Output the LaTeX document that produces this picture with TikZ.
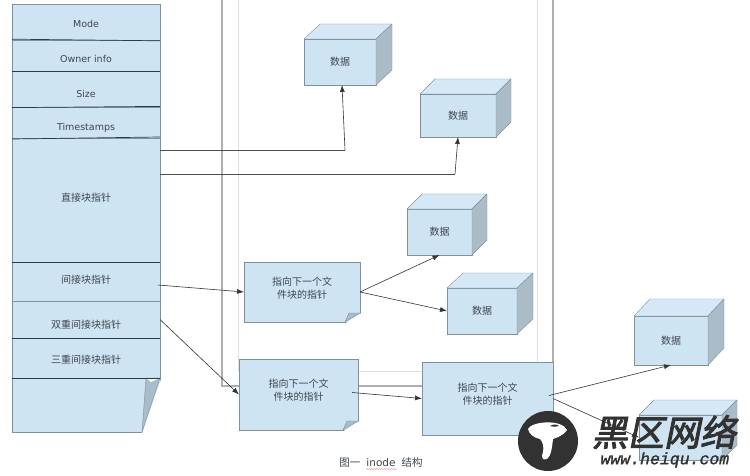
\documentclass[tikz,border=0pt]{standalone}
\usepackage{fontspec}
\setmainfont{DejaVu Sans}
\newfontfamily\cjk{Noto Sans CJK SC}
\newfontfamily\cjkmark[FakeSlant=0.2,FakeBold=2.5]{Noto Sans CJK SC}
\newfontfamily\urlmark[FakeSlant=0.2,FakeBold=1.5]{Liberation Mono}
\usetikzlibrary{arrows.meta,positioning,calc,decorations.pathmorphing}
\definecolor{cBox}{RGB}{207,228,243}
\definecolor{cTop}{RGB}{214,232,245}
\definecolor{cSide}{RGB}{170,188,200}
\definecolor{cLine}{RGB}{125,145,158}
\definecolor{cDiv}{RGB}{35,60,80}
\definecolor{cText}{RGB}{60,70,78}
\definecolor{cMark}{RGB}{50,50,50}
\definecolor{cPage}{RGB}{175,175,175}
\definecolor{cPageIn}{RGB}{222,222,222}
\tikzset{
  basebox/.style={rectangle,draw=cLine,fill=cBox,outer sep=0pt,inner sep=0pt,
                  align=center,text=cText,font=\cjk\fontsize{10}{13}\selectfont},
  cellbox/.style={basebox,minimum width=148pt},
  txt/.style={text=cText,align=center,font=\cjk\fontsize{10}{13}\selectfont},
  entxt/.style={text=cText,font=\fontsize{9.5}{11}\selectfont},
  divline/.style={draw=cDiv,line width=0.7pt},
  arr/.style={-{Latex[length=7pt,width=5pt]},line width=0.6pt,color=black!80},
  planearr/.style={line width=0.6pt,color=black!70},
  pageouter/.style={draw=cPage,line width=1.8pt},
  pageinner/.style={draw=cPageIn,line width=1pt}
}
\newcommand{\cubeside}[3]{%
  \draw[cLine,fill=cTop,line join=round] (#1.north west) -- ++(#2,-#3) -- ($(#1.north east)+(#2,-#3)$) -- (#1.north east) -- cycle;
  \draw[cLine,fill=cSide,line join=round] (#1.north east) -- ++(#2,-#3) -- ($(#1.south east)+(#2,-#3)$) -- (#1.south east) -- cycle;}
\newcommand{\notefold}[3]{%
  \fill[white] ($(#1.south east)+(-#2,1.5)$) -- ($(#1.south east)+(1.5,-#3)$) -- ($(#1.south east)+(1.5,1.5)$) -- cycle;
  \draw[cLine,fill=cSide,line join=round] ($(#1.south east)+(-#2,0)$) -- ($(#1.south east)+(-#2+4,-#3)$) -- ($(#1.south east)+(0,-#3)$) -- cycle;}
\begin{document}
\begin{tikzpicture}[x=1pt,y=-1pt]
  \useasboundingbox (0,0) rectangle (750,476);

  % Page behind
  \draw[pageouter] (222,0) -- (222,386) -- (553,386) -- (553,0);
  \draw[pageinner] (238.5,0) -- (238.5,371) -- (537,371) -- (537,0);

  % inode column
  \node[cellbox,minimum height=36pt,label={[entxt,yshift=-2pt]center:Mode}] (mode) at (86,22) {};
  \node[cellbox,minimum height=31pt,below=0pt of mode,label={[entxt,yshift=-3.5pt]center:Owner info}] (owner) {};
  \node[cellbox,minimum height=36pt,below=0pt of owner,label={[entxt,yshift=-5pt]center:Size}] (size) {};
  \node[cellbox,minimum height=31pt,below=0pt of size,label={[entxt,yshift=-5.5pt]center:Timestamps}] (times) {};
  \node[cellbox,minimum height=124pt,below=0pt of times,label={[txt,yshift=2pt]center:直接块指针}] (direct) {};
  \node[cellbox,minimum height=39pt,below=0pt of direct,label={[txt,yshift=1.5pt]center:间接块指针}] (indirect) {};
  \node[cellbox,minimum height=37pt,below=0pt of indirect,label={[txt,yshift=-5.5pt]center:双重间接块指针}] (double) {};
  \node[cellbox,minimum height=40pt,below=0pt of double,label={[txt,yshift=-2pt]center:三重间接块指针}] (triple) {};
  \node[cellbox,minimum height=54pt,below=0pt of triple] (rest) {};

  % Big fold
  \fill[white] ($(rest.south east)+(-18,1.5)$) -- ($(rest.north east)+(1.5,0)$) -- ($(rest.south east)+(1.5,1.5)$) -- cycle;
  \draw[cLine,fill=cSide,line join=round] ($(rest.south east)+(-18,0)$) -- ($(rest.north east)+(-14,0)$) -- (rest.north east) -- cycle;
  \fill[white] ($(rest.north east)+(-13,0.8)$) -- ($(rest.north east)+(-2,0.8)$) -- ($(rest.north east)+(-9,4)$) -- cycle;

  \draw[divline] ([yshift=0.8pt]mode.south west) -- ([yshift=-0.8pt]mode.south east);
  \draw[divline] (owner.south west) -- (owner.south east);
  \draw[divline] ([yshift=-0.6pt]size.south west) -- ([yshift=0.6pt]size.south east);
  \draw[divline] ([yshift=-1pt]times.south west) -- ([yshift=1pt]times.south east);
  \draw[divline] (direct.south west) -- (direct.south east);
  \draw[divline,draw=cLine] (indirect.south west) -- (indirect.south east);
  \draw[divline] (double.south west) -- (double.south east);
  \draw[divline] (triple.south west) -- (triple.south east);

  % Data blocks
  \node[basebox,minimum width=72pt,minimum height=46pt] (data1) at (340,62) {数据};
  \cubeside{data1}{16}{15}
  \node[basebox,minimum width=76pt,minimum height=43pt] (data2) at (458,115.5) {数据};
  \cubeside{data2}{15}{15}
  \node[basebox,minimum width=65pt,minimum height=46pt] (data3) at (439.5,232) {数据};
  \cubeside{data3}{15}{15}
  \node[basebox,minimum width=70pt,minimum height=46pt] (data4) at (482,311) {数据};
  \cubeside{data4}{16}{15}
  \node[basebox,minimum width=74pt,minimum height=49pt] (data5) at (671,340.5) {数据};
  \cubeside{data5}{16}{17}
  \node[basebox,minimum width=83pt,minimum height=45pt] (data6) at (680.5,437.5) {};
  \cubeside{data6}{15}{15}

  % Pointer blocks
  \node[basebox,minimum width=116pt,minimum height=60pt,
        label={[txt,yshift=4pt]center:指向下一个文\\件块的指针}] (ptr1) at (302,292) {};
  \notefold{ptr1}{15}{9}
  \node[basebox,minimum width=119pt,minimum height=71pt,
        label={[txt,yshift=4pt]center:指向下一个文\\件块的指针}] (ptr2) at (298.5,394.5) {};
  \notefold{ptr2}{15}{9}
  \node[basebox,minimum width=131pt,minimum height=73pt,
        label={[txt,yshift=4pt]center:指向下一个文\\件块的指针}] (ptr3) at (487.5,398.5) {};

  % Arrows
  \coordinate (bend1) at (345,150);
  \coordinate (bend2) at (455,174);
  \draw[planearr] ([yshift=-12pt]direct.north east) -- (bend1);
  \draw[arr] (bend1) -- ([xshift=2pt]data1.south);
  \draw[planearr] ([yshift=-36pt]direct.north east) -- (bend2);
  \draw[arr] (bend2) -- (data2.south);
  \draw[arr] ([xshift=-2pt,yshift=-3.5pt]indirect.east) -- (ptr1.west);
  \draw[arr] (double.east) -- (ptr2.west);
  \draw[arr] (ptr1.east) -- (data3.south);
  \draw[arr] (ptr1.east) -- (data4.west);
  \draw[arr] ([xshift=-6pt,yshift=2pt]ptr2.east) -- (ptr3.west);
  \draw[arr] ([xshift=-4pt,yshift=3pt]ptr3.east) -- (data5.south);
  \draw[arr] (ptr3.east) -- (data6.west);

  % Caption
  \node[txt,font=\cjk\fontsize{10.5}{12}\selectfont] (caption) at (381,463)
      {图一\hspace{6pt}{\fontspec{DejaVu Sans}inode}\hspace{6pt}结构};
  \draw[red!60,line width=0.4pt,decorate,decoration={snake,amplitude=0.4pt,segment length=2.5pt}]
      ([xshift=-15pt,yshift=-6pt]caption.center) -- ([xshift=16pt,yshift=-6pt]caption.center);

  % Watermark
  \node[circle,fill=cMark,minimum size=60pt,inner sep=0pt] (logo) at (548,441) {};
  \draw[fill=white,draw=none] (528,429) .. controls (532,421) and (562,419) .. (567,430)
      .. controls (562,437) and (555,438) .. (553,439) .. controls (552,448) and (551,456) .. (547,459)
      .. controls (542,461) and (541,457) .. (543,452) .. controls (544,447) and (543,442) .. (540,439)
      .. controls (534,438) and (529,434) .. (528,429) -- cycle;
  \fill[cMark] (550,426) .. controls (553,424) and (557,424) .. (559,426) .. controls (556,427) and (553,427) .. (550,426) -- cycle;
  \node[inner sep=0pt,text=cMark,font=\cjkmark\fontsize{36}{36}\selectfont] (brand) at (664,432) {黑区网络};
  \node[inner sep=0pt,text=cMark,font=\urlmark\fontsize{16.5}{17}\selectfont,below=3pt of brand] (site) {www.heiqu.com};
\end{tikzpicture}
\end{document}
